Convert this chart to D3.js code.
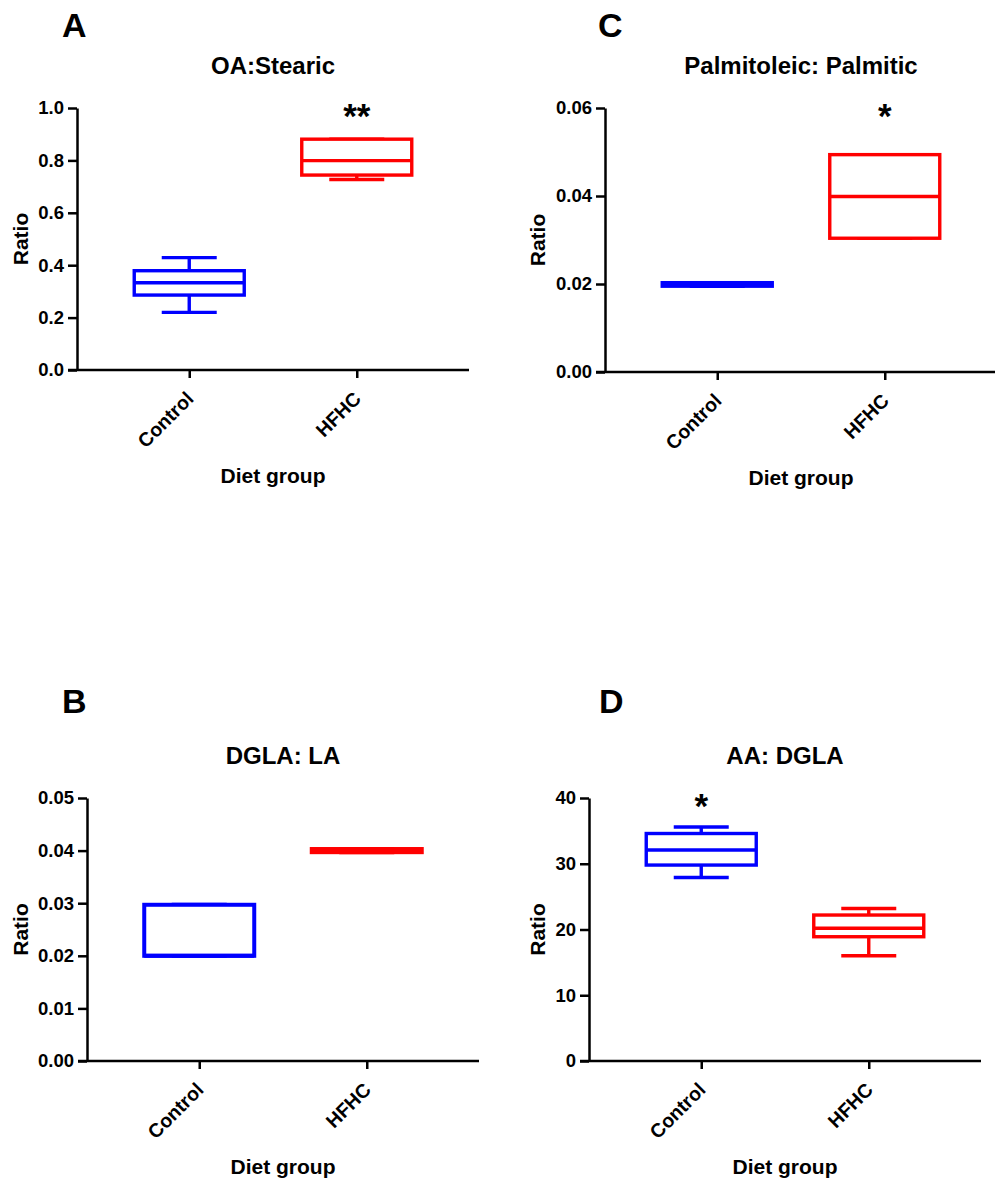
<!DOCTYPE html>
<html>
<head>
<meta charset="utf-8">
<script src="https://cdn.jsdelivr.net/npm/d3@7"></script>
<style>
  body { margin: 0; background: #fff; }
  svg { display: block; font-family: "Liberation Sans", Arial, sans-serif; font-weight: bold; }
</style>
</head>
<body>
<div id="chart"></div>
<script>
// groups on the x axis
const groups = ["Control", "HFHC"];

// box summaries: [min, q1, median, q3, max] per group
const oaStearic = [
  [0.220, 0.286, 0.333, 0.379, 0.429],
  [0.727, 0.744, 0.799, 0.881, 0.881]
];
const dglaLa = [
  [0.0200, 0.0200, 0.0200, 0.0297, 0.0297],
  [0.0397, 0.0397, 0.0400, 0.0403, 0.0403]
];
const palmitoleicPalmitic = [
  [0.0195, 0.0195, 0.0199, 0.0203, 0.0203],
  [0.0304, 0.0304, 0.0399, 0.0494, 0.0494]
];
const aaDgla = [
  [27.9, 29.8, 32.1, 34.6, 35.6],
  [16.0, 18.9, 20.2, 22.2, 23.2]
];

// y tick values
const ticksA = [0, 0.2, 0.4, 0.6, 0.8, 1.0];
const ticksB = [0, 0.01, 0.02, 0.03, 0.04, 0.05];
const ticksC = [0, 0.02, 0.04, 0.06];
const ticksD = [0, 10, 20, 30, 40];

const colors = ["#0000ff", "#ff0000"];

const width = 995, height = 1181;
const plotW = 392;

const svg = d3.select("#chart").append("svg")
  .attr("width", width)
  .attr("height", height);

const panels = [
  { letter: "A", title: "OA:Stearic", data: oaStearic, ticks: ticksA, fmt: d3.format(".1f"),
    left: 77, top: 108, h: 262, stars: "**", starIdx: 1, ratioX: 21, letterX: 62, letterY: 37, sw: 3.4 },
  { letter: "C", title: "Palmitoleic: Palmitic", data: palmitoleicPalmitic, ticks: ticksC, fmt: d3.format(".2f"),
    left: 605, top: 108, h: 264, stars: "*", starIdx: 1, ratioX: 538, letterX: 598, letterY: 37, sw: 3.4 },
  { letter: "B", title: "DGLA: LA", data: dglaLa, ticks: ticksB, fmt: d3.format(".2f"),
    left: 87, top: 798, h: 263, stars: null, ratioX: 21, letterX: 62, letterY: 713, sw: 4 },
  { letter: "D", title: "AA: DGLA", data: aaDgla, ticks: ticksD, fmt: d3.format("d"),
    left: 589, top: 798, h: 263, stars: "*", starIdx: 0, ratioX: 538, letterX: 599, letterY: 713, sw: 3.4 }
];

panels.forEach(p => {
  const x = d3.scalePoint().domain(groups).range([p.left, p.left + plotW]).padding(0.67);
  const y = d3.scaleLinear().domain([0, d3.max(p.ticks)]).range([p.top + p.h, p.top]);
  const boxW = 110;

  // panel letter
  svg.append("text")
    .attr("x", p.letterX).attr("y", p.letterY)
    .attr("font-size", 34)
    .text(p.letter);

  // title
  svg.append("text")
    .attr("x", p.left + plotW / 2).attr("y", p.top - 34)
    .attr("text-anchor", "middle")
    .attr("font-size", 24)
    .text(p.title);

  // y axis
  const yAxis = svg.append("g")
    .attr("transform", `translate(${p.left},0)`)
    .call(d3.axisLeft(y).tickValues(p.ticks).tickFormat(p.fmt).tickSize(9).tickSizeOuter(0).tickPadding(4));
  yAxis.select(".domain").attr("stroke-width", 2.5);
  yAxis.selectAll(".tick line").attr("stroke-width", 2.5);
  yAxis.selectAll(".tick text").attr("font-size", 18.5).attr("font-family", null).attr("fill", "#000");

  // x axis
  const xAxis = svg.append("g")
    .attr("transform", `translate(0,${p.top + p.h})`)
    .call(d3.axisBottom(x).tickSize(8).tickSizeOuter(0).tickFormat(""));
  xAxis.select(".domain").remove();
  xAxis.append("line")
    .attr("x1", p.left - 9).attr("x2", p.left + plotW)
    .attr("stroke", "#000").attr("stroke-width", 2.5);
  xAxis.selectAll(".tick line").attr("stroke-width", 2.5);
  xAxis.selectAll(".tick")
    .append("text")
    .attr("text-anchor", "end")
    .attr("font-size", 19.5)
    .attr("fill", "#000")
    .attr("transform", "translate(5,30) rotate(-45)")
    .text(d => d);

  // axis titles
  svg.append("text")
    .attr("transform", `translate(${p.ratioX + 7},${p.top + p.h / 2}) rotate(-90)`)
    .attr("text-anchor", "middle")
    .attr("font-size", 21)
    .text("Ratio");
  svg.append("text")
    .attr("x", p.left + plotW / 2).attr("y", p.top + p.h + 113)
    .attr("text-anchor", "middle")
    .attr("font-size", 21)
    .text("Diet group");

  // boxes
  const box = svg.append("g").selectAll("g")
    .data(p.data)
    .join("g")
    .attr("stroke", (d, i) => colors[i])
    .attr("stroke-width", p.sw)
    .attr("fill", "none");

  const cx = (d, i) => x(groups[i]);
  // whisker stems
  box.append("line")
    .attr("x1", cx).attr("x2", cx)
    .attr("y1", d => y(d[4])).attr("y2", d => y(d[3]));
  box.append("line")
    .attr("x1", cx).attr("x2", cx)
    .attr("y1", d => y(d[1])).attr("y2", d => y(d[0]));
  // caps
  box.append("line")
    .attr("x1", (d, i) => cx(d, i) - boxW / 4).attr("x2", (d, i) => cx(d, i) + boxW / 4)
    .attr("y1", d => y(d[4])).attr("y2", d => y(d[4]));
  box.append("line")
    .attr("x1", (d, i) => cx(d, i) - boxW / 4).attr("x2", (d, i) => cx(d, i) + boxW / 4)
    .attr("y1", d => y(d[0])).attr("y2", d => y(d[0]));
  // box
  box.append("rect")
    .attr("x", (d, i) => cx(d, i) - boxW / 2)
    .attr("width", boxW)
    .attr("y", d => y(d[3]))
    .attr("height", d => y(d[1]) - y(d[3]))
    .attr("fill", "#fff");
  // median
  box.append("line")
    .attr("x1", (d, i) => cx(d, i) - boxW / 2).attr("x2", (d, i) => cx(d, i) + boxW / 2)
    .attr("y1", d => y(d[2])).attr("y2", d => y(d[2]));

  // significance marks
  if (p.stars) {
    svg.append("text")
      .attr("x", x(groups[p.starIdx])).attr("y", p.top + 20)
      .attr("text-anchor", "middle")
      .attr("font-size", 35)
      .text(p.stars);
  }
});
</script>
</body>
</html>
